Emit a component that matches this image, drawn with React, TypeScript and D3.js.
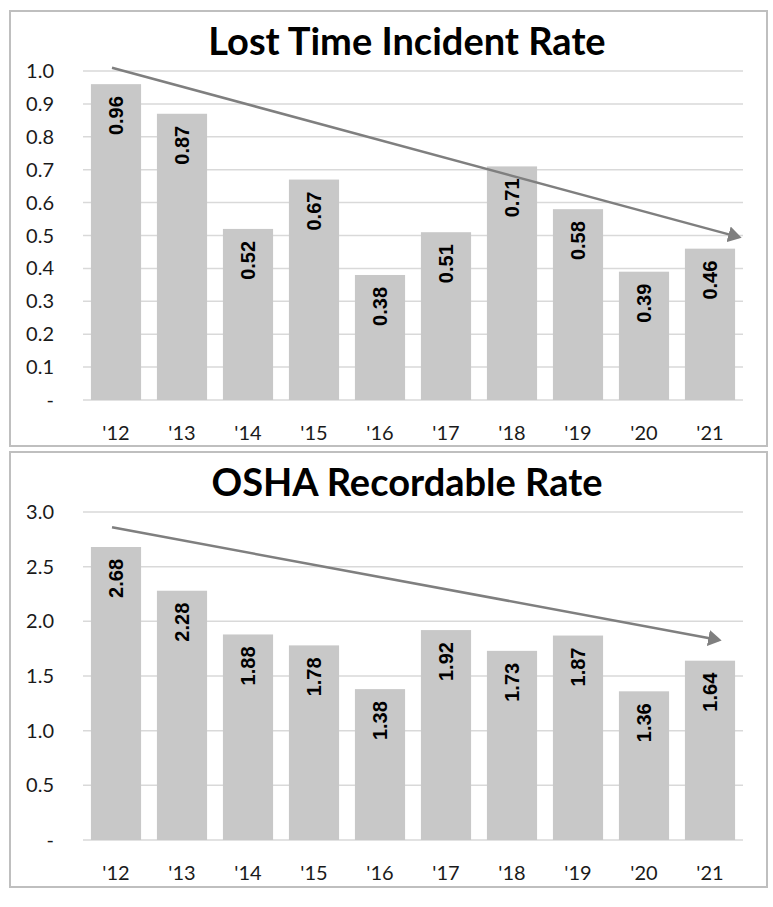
import { useEffect, useRef } from "react";
import * as d3 from "d3";

const years = ["'12", "'13", "'14", "'15", "'16", "'17", "'18", "'19", "'20", "'21"];
const lostTime = [0.96, 0.87, 0.52, 0.67, 0.38, 0.51, 0.71, 0.58, 0.39, 0.46];
const osha = [2.68, 2.28, 1.88, 1.78, 1.38, 1.92, 1.73, 1.87, 1.36, 1.64];
const lostTicks = [0, 0.1, 0.2, 0.3, 0.4, 0.5, 0.6, 0.7, 0.8, 0.9, 1.0];
const oshaTicks = [0, 0.5, 1.0, 1.5, 2.0, 2.5, 3.0];
// trend arrow start / end values
const lostTrend = [1.01, 0.495];
const oshaTrend = [2.86, 1.83];

type Panel = {
  title: string;
  values: number[];
  ticks: number[];
  max: number;
  trend: number[];
  top: number;
  yTop: number;
  yZero: number;
  trendEndX: number;
};

const panels: Panel[] = [
  { title: "Lost Time Incident Rate", values: lostTime, ticks: lostTicks, max: 1.0, trend: lostTrend, top: 11, yTop: 71, yZero: 400, trendEndX: 739 },
  { title: "OSHA Recordable Rate", values: osha, ticks: oshaTicks, max: 3.0, trend: oshaTrend, top: 452, yTop: 512, yZero: 840, trendEndX: 719 },
];

const W = 773;
const H = 907;
const axisFont = "Lato, 'Open Sans', sans-serif";
const valueFont = "'Liberation Sans', Arial, sans-serif";

export default function App() {
  const svgRef = useRef<SVGSVGElement | null>(null);

  useEffect(() => {
    const svg = d3.select(svgRef.current!);
    svg.selectAll("*").remove();

    svg
      .append("defs")
      .append("marker")
      .attr("id", "arrow")
      .attr("viewBox", "0 0 10 12")
      .attr("refX", 8)
      .attr("refY", 6)
      .attr("markerWidth", 5.4)
      .attr("markerHeight", 6.5)
      .attr("orient", "auto")
      .append("path")
      .attr("d", "M0,0 L10,6 L0,12 Z")
      .attr("fill", "#7f7f7f");

    panels.forEach((p) => {
      const g = svg.append("g");

      g.append("rect")
        .attr("x", 10)
        .attr("y", p.top)
        .attr("width", 757)
        .attr("height", 435)
        .attr("fill", "#fff")
        .attr("stroke", "#bfbfbf")
        .attr("stroke-width", 2);

      g.append("text")
        .attr("x", 407)
        .attr("y", p.top + 44)
        .attr("text-anchor", "middle")
        .attr("font-family", axisFont)
        .attr("font-weight", 700)
        .attr("font-size", 38)
        .attr("fill", "#000")
        .text(p.title);

      const x = d3.scaleBand().domain(years).range([83, 743]).paddingInner(0.24).paddingOuter(0.12);
      const y = d3.scaleLinear().domain([0, p.max]).range([p.yZero, p.yTop]);

      g.selectAll("line.grid")
        .data(p.ticks)
        .join("line")
        .attr("x1", 83)
        .attr("x2", 743)
        .attr("y1", (d) => y(d))
        .attr("y2", (d) => y(d))
        .attr("stroke", "#d9d9d9")
        .attr("stroke-width", 1.5);

      g.selectAll("text.ytick")
        .data(p.ticks)
        .join("text")
        .attr("x", 54)
        .attr("y", (d) => y(d))
        .attr("dy", "0.35em")
        .attr("text-anchor", "end")
        .attr("font-family", axisFont)
        .attr("font-size", 20)
        .attr("fill", "#1a1a1a")
        .text((d) => (d === 0 ? "-" : d.toFixed(1)));

      g.selectAll("rect.bar")
        .data(p.values)
        .join("rect")
        .attr("x", (_, i) => x(years[i])!)
        .attr("y", (d) => y(d))
        .attr("width", x.bandwidth())
        .attr("height", (d) => p.yZero - y(d))
        .attr("fill", "#c8c8c8");

      g.selectAll("text.val")
        .data(p.values)
        .join("text")
        .attr("transform", (d, i) => `translate(${x(years[i])! + x.bandwidth() / 2},${y(d) + 12}) rotate(-90)`)
        .attr("dy", "0.36em")
        .attr("text-anchor", "end")
        .attr("font-family", valueFont)
        .attr("font-weight", 700)
        .attr("font-size", 20)
        .attr("fill", "#000")
        .text((d) => d.toFixed(2));

      g.selectAll("text.xtick")
        .data(years)
        .join("text")
        .attr("x", (d) => x(d)! + x.bandwidth() / 2)
        .attr("y", p.yZero + 33)
        .attr("dy", "0.35em")
        .attr("text-anchor", "middle")
        .attr("font-family", axisFont)
        .attr("font-size", 20)
        .attr("fill", "#1a1a1a")
        .text((d) => d);

      g.append("line")
        .attr("x1", x(years[0])! + x.bandwidth() / 2 - 4)
        .attr("y1", y(p.trend[0]))
        .attr("x2", p.trendEndX)
        .attr("y2", y(p.trend[1]))
        .attr("stroke", "#7f7f7f")
        .attr("stroke-width", 2.5)
        .attr("marker-end", "url(#arrow)");
    });
  }, []);

  return (
    <svg
      ref={svgRef}
      width={W}
      height={H}
      style={{ position: "absolute", left: 0, top: 0, background: "#fff" }}
    />
  );
}
